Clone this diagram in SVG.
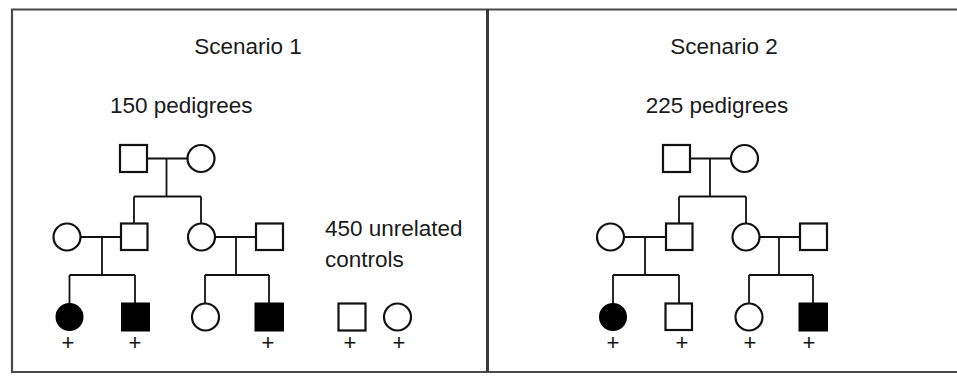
<svg xmlns="http://www.w3.org/2000/svg" width="957" height="376" viewBox="0 0 957 376">
<style>
.t{font-family:"Liberation Sans",Arial,sans-serif;font-size:22.5px;fill:#1a1a1a}
.p{font-family:"Liberation Sans",Arial,sans-serif;font-size:22px;fill:#111;text-anchor:middle}
.o{fill:#fff;stroke:#111;stroke-width:2.2}
.f{fill:#000;stroke:#000;stroke-width:2}
.l{fill:none;stroke:#111;stroke-width:1.8}
.b{fill:none;stroke:#4a4a4a;stroke-width:2.2}
</style>
<rect width="957" height="376" fill="#fff"/>
<g id="frame">
<path class="b" d="M957 9.5H12V372H957"/>
<line x1="487.5" y1="9" x2="487.5" y2="372" stroke="#3a3a3a" stroke-width="3"/>
</g>
<g id="labels">
<text class="t" x="248" y="54" text-anchor="middle">Scenario 1</text>
<text class="t" x="110" y="113">150 pedigrees</text>
<text class="t" x="325" y="236">450 unrelated</text>
<text class="t" x="325" y="267">controls</text>
<text class="t" x="724" y="54" text-anchor="middle">Scenario 2</text>
<text class="t" x="717" y="113" text-anchor="middle">225 pedigrees</text>
</g>
<g id="connectors">
<path class="l" d="M147 158.5H187M166.5 158.5V196.5M134 196.5H201M134 196.5V223.5M201 196.5V223.5"/>
<path class="l" d="M80.5 237H121M102 237V275M69.5 275H135M69.5 275V303M135 275V303"/>
<path class="l" d="M215 237H256M236 237V275M205 275H269M205 275V303M269 275V303"/>
<path class="l" d="M690 158.5H731M710 158.5V196.5M679 196.5H746M679 196.5V223.5M746 196.5V223.5"/>
<path class="l" d="M624 237H666M645 237V275M613 275H679M613 275V303M679 275V303"/>
<path class="l" d="M759 237H800M779 237V275M749 275H813M749 275V303M813 275V303"/>
</g>
<g id="s1-gen1">
<rect id="s1-f1" class="o" x="120" y="145" width="27" height="27"/>
<circle id="s1-m1" class="o" cx="201" cy="158.5" r="13.5"/>
</g>
<g id="s1-gen2">
<circle id="s1-c21" class="o" cx="67" cy="237" r="13.5"/>
<rect id="s1-s22" class="o" x="121" y="223.5" width="26.5" height="26.5"/>
<circle id="s1-c23" class="o" cx="201.5" cy="237" r="13.5"/>
<rect id="s1-s24" class="o" x="256" y="223.5" width="27" height="26.5"/>
</g>
<g id="s1-gen3">
<circle id="s1-c31" class="f" cx="69.5" cy="317" r="13"/>
<rect id="s1-s32" class="f" x="122" y="303.5" width="27" height="27"/>
<circle id="s1-c33" class="o" cx="205.5" cy="317" r="13.5"/>
<rect id="s1-s34" class="f" x="255.5" y="303.5" width="27.5" height="27"/>
</g>
<g id="s1-controls">
<rect id="s1-cs" class="o" x="338.5" y="303.5" width="27" height="27"/>
<circle id="s1-cc" class="o" cx="397.5" cy="317" r="13.5"/>
</g>
<g id="s1-plus">
<text class="p" x="68" y="350">+</text>
<text class="p" x="135" y="350">+</text>
<text class="p" x="268" y="350">+</text>
<text class="p" x="350" y="350">+</text>
<text class="p" x="399" y="350">+</text>
</g>
<g id="s2-gen1">
<rect id="s2-f1" class="o" x="663" y="145" width="27" height="27"/>
<circle id="s2-m1" class="o" cx="744.5" cy="158.5" r="13.5"/>
</g>
<g id="s2-gen2">
<circle id="s2-c21" class="o" cx="610.5" cy="237" r="13.5"/>
<rect id="s2-s22" class="o" x="666" y="223.5" width="26.5" height="26.5"/>
<circle id="s2-c23" class="o" cx="746" cy="237" r="13.5"/>
<rect id="s2-s24" class="o" x="800" y="223.5" width="27" height="26.5"/>
</g>
<g id="s2-gen3">
<circle id="s2-c31" class="f" cx="613" cy="317" r="13"/>
<rect id="s2-s32" class="o" x="665.5" y="303.5" width="26.5" height="26.5"/>
<circle id="s2-c33" class="o" cx="749" cy="317" r="13.5"/>
<rect id="s2-s34" class="f" x="799.5" y="303.5" width="27.5" height="27"/>
</g>
<g id="s2-plus">
<text class="p" x="613" y="350">+</text>
<text class="p" x="682" y="350">+</text>
<text class="p" x="750" y="350">+</text>
<text class="p" x="809" y="350">+</text>
</g>
</svg>
